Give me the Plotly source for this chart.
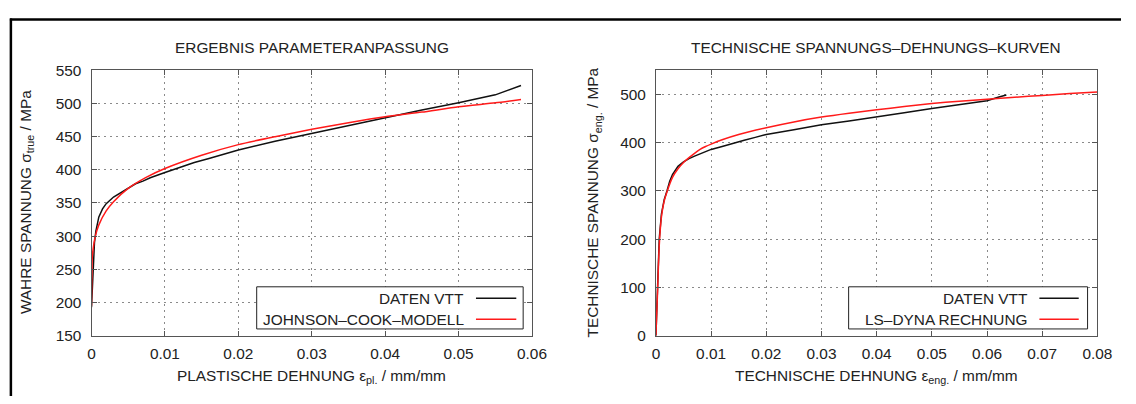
import plotly.graph_objects as go

W, H = 1136, 404

# ---------------- data ----------------
# Left panel: true stress vs plastic strain
left_eps_vtt = [0, 0.0002, 0.0004, 0.0006, 0.001, 0.0015, 0.002, 0.003, 0.004, 0.005,
                0.006, 0.007, 0.008, 0.01, 0.012, 0.014, 0.016, 0.018, 0.02, 0.025,
                0.03, 0.035, 0.04, 0.045, 0.05, 0.055, 0.0585]
left_sig_vtt = [193, 252, 290, 308, 329, 341, 349, 359, 366, 372,
                379, 383, 388, 396, 404, 411, 417, 423, 430, 443,
                455, 467, 479, 490, 501, 513, 527]

left_eps_jc = [0, 0.0001, 0.0002, 0.0005, 0.001, 0.002, 0.003, 0.005, 0.0075, 0.01,
               0.015, 0.02, 0.025, 0.03, 0.035, 0.04, 0.045, 0.05, 0.055, 0.0585]
left_sig_jc = [195, 267, 279, 299, 317, 338, 352, 372, 389, 402,
               422, 438, 450, 461, 471, 480, 487, 495, 501, 506]

# Right panel: engineering stress-strain curves
right_eps_vtt = [0, 0.0003, 0.0006, 0.001, 0.0015, 0.002, 0.0025, 0.003, 0.0035, 0.004,
                 0.005, 0.006, 0.007, 0.008, 0.01, 0.012, 0.014, 0.016, 0.018, 0.02,
                 0.025, 0.03, 0.035, 0.04, 0.045, 0.05, 0.055, 0.06, 0.062, 0.0635]
right_sig_vtt = [0, 100, 200, 252, 282, 300, 320, 334, 344, 351,
                 360, 367, 372, 377, 386, 392, 399, 405, 411, 417,
                 427, 437, 445, 453, 462, 471, 479, 487, 494, 499]

right_eps_dyna = [0, 0.0003, 0.0006, 0.001, 0.0015, 0.002, 0.003, 0.004, 0.005, 0.006,
                  0.007, 0.008, 0.009, 0.01, 0.012, 0.015, 0.02, 0.025, 0.03, 0.035,
                  0.04, 0.045, 0.05, 0.055, 0.06, 0.065, 0.07, 0.075, 0.08]
right_sig_dyna = [0, 92, 186, 246, 279, 298, 328, 346, 359, 369,
                  378, 386, 392, 397, 406, 417, 431, 443, 453, 461,
                  468, 475, 481, 486, 490, 494, 498, 502, 505]

left_xticks = [0, 0.01, 0.02, 0.03, 0.04, 0.05, 0.06]
left_xticklabels = ["0", "0.01", "0.02", "0.03", "0.04", "0.05", "0.06"]
left_yticks = [150, 200, 250, 300, 350, 400, 450, 500, 550]
right_xticks = [0, 0.01, 0.02, 0.03, 0.04, 0.05, 0.06, 0.07, 0.08]
right_xticklabels = ["0", "0.01", "0.02", "0.03", "0.04", "0.05", "0.06", "0.07", "0.08"]
right_yticks = [0, 100, 200, 300, 400, 500]

left_title = "ERGEBNIS PARAMETERANPASSUNG"
right_title = "TECHNISCHE SPANNUNGS\u2013DEHNUNGS\u2013KURVEN"
left_xtitle = "PLASTISCHE DEHNUNG \u03b5<sub>pl.</sub> / mm/mm"
left_ytitle = "WAHRE SPANNUNG \u03c3<sub>true</sub> / MPa"
right_xtitle = "TECHNISCHE DEHNUNG \u03b5<sub>eng.</sub> / mm/mm"
right_ytitle = "TECHNISCHE SPANNUNG \u03c3<sub>eng.</sub> / MPa"
left_names = ["DATEN VTT", "JOHNSON\u2013COOK\u2013MODELL"]
right_names = ["DATEN VTT", "LS\u2013DYNA RECHNUNG"]

BLACK = "#111111"
RED = "#ff1a1a"
FONT = "Liberation Sans"
FS = 15.4


def px(x):
    return x / W


def py(y):
    return 1 - y / H


fig = go.Figure()
fig.add_trace(go.Scatter(x=left_eps_vtt, y=left_sig_vtt, mode="lines", name=left_names[0],
                         line=dict(color=BLACK, width=1.5), xaxis="x", yaxis="y"))
fig.add_trace(go.Scatter(x=left_eps_jc, y=left_sig_jc, mode="lines", name=left_names[1],
                         line=dict(color=RED, width=1.5, shape="spline", smoothing=0.6), xaxis="x", yaxis="y"))
fig.add_trace(go.Scatter(x=right_eps_vtt, y=right_sig_vtt, mode="lines", name=right_names[0],
                         line=dict(color=BLACK, width=1.5), xaxis="x2", yaxis="y2"))
fig.add_trace(go.Scatter(x=right_eps_dyna, y=right_sig_dyna, mode="lines", name=right_names[1],
                         line=dict(color=RED, width=1.5, shape="spline", smoothing=0.6), xaxis="x2", yaxis="y2"))

axis_common = dict(
    showline=True, linecolor="#555555", linewidth=1, mirror="ticks",
    ticks="inside", ticklen=5, tickcolor="#555555", tickwidth=1,
    showgrid=True, gridcolor="#8a8a8a", griddash="2px,4px", gridwidth=1,
    zeroline=False, tickfont=dict(family=FONT, size=FS, color="#222222"),
    fixedrange=True,
)

ydom = [py(341), py(64)]
fig.update_layout(
    width=W, height=H, margin=dict(l=0, r=0, t=0, b=0),
    paper_bgcolor="white", plot_bgcolor="white", showlegend=False,
    font=dict(family=FONT, size=FS, color="#222222"),
    xaxis=dict(domain=[px(89), px(537)], range=[0, 0.06], tickvals=left_xticks,
               ticktext=left_xticklabels, anchor="y", ticklabelstandoff=4, **axis_common),
    yaxis=dict(domain=ydom, range=[150, 550], tickvals=left_yticks, anchor="x",
               ticklabelstandoff=6, **axis_common),
    xaxis2=dict(domain=[px(663), px(1112)], range=[0, 0.08], tickvals=right_xticks,
                ticktext=right_xticklabels, anchor="y2", ticklabelstandoff=4, **axis_common),
    yaxis2=dict(domain=ydom, range=[0, 550], tickvals=right_yticks, anchor="x2",
                ticklabelstandoff=6, **axis_common),
)

ann = []
shapes = []


def text(x, y, t, anchor="center", angle=0, size=FS):
    ann.append(dict(x=px(x), y=py(y), xref="paper", yref="paper", text=t, showarrow=False,
                    xanchor=anchor, yanchor="middle", textangle=angle,
                    font=dict(family=FONT, size=size, color="#222222")))


# titles
text(313, 40, left_title)
text(887, 40, right_title)
text(313, 384, left_xtitle)
text(887, 384, right_xtitle)
text(23, 202, left_ytitle, angle=-90)
text(600, 202, right_ytitle, angle=-90)

# legends
def legend(x0, x1, y0, y1, names, colors, tx, lx0, lx1, rows):
    shapes.append(dict(type="rect", xref="paper", yref="paper", x0=px(x0), x1=px(x1),
                       y0=py(y1), y1=py(y0), line=dict(color="#222222", width=1),
                       fillcolor="white", layer="above"))
    for nm, c, ry in zip(names, colors, rows):
        text(tx, ry, nm, anchor="right")
        shapes.append(dict(type="line", xref="paper", yref="paper", x0=px(lx0), x1=px(lx1),
                           y0=py(ry), y1=py(ry), line=dict(color=c, width=1.5), layer="above"))


legend(257, 528, 290, 334, left_names, [BLACK, RED], 470, 480, 521, [302, 324])
legend(859, 1102, 290, 334, right_names, [BLACK, RED], 1043, 1053, 1093, [302, 324])

# outer frame (top and left edges)
shapes.append(dict(type="line", xref="paper", yref="paper", x0=px(6), x1=1, y0=py(11), y1=py(11),
                   line=dict(color="black", width=2.5)))
shapes.append(dict(type="line", xref="paper", yref="paper", x0=px(7), x1=px(7), y0=py(10), y1=0,
                   line=dict(color="black", width=2.5)))

fig.update_layout(annotations=ann, shapes=shapes)
fig.write_html("out.html")
